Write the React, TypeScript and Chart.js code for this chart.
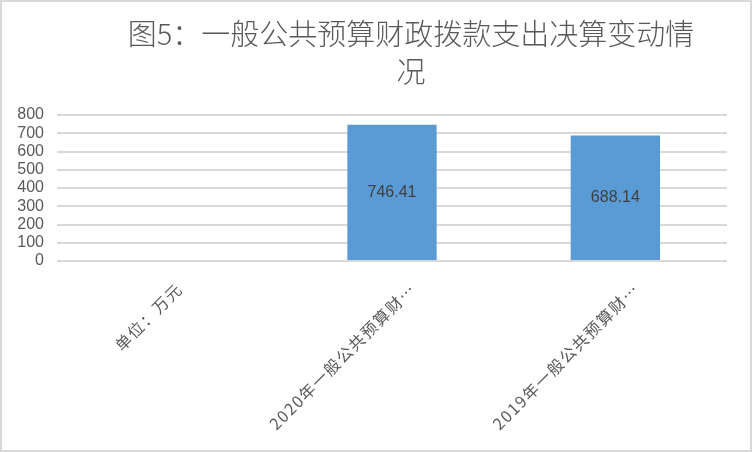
import { useEffect, useRef } from "react";
import { Chart, registerables } from "chart.js";

Chart.register(...registerables);

// chart data
const titleLines = ["图5：一般公共预算财政拨款支出决算变动情", "况"];
const categories = ["单位：万元", "2020年一般公共预算财…", "2019年一般公共预算财…"];
const values: (number | null)[] = [null, 746.41, 688.14];
const yMin = 0;
const yMax = 800;
const yStep = 100;

const FONT = "'Liberation Sans', 'Noto Sans CJK SC', sans-serif";
const CJK_FONT = "'Noto Sans CJK SC', 'Liberation Sans', sans-serif";
const GRAY = "#595959";

// title drawn by hand so it can sit off-centre like the original
const titlePlugin = {
  id: "sideTitle",
  afterDraw(chart: any) {
    const { ctx, width } = chart;
    ctx.save();
    ctx.font = `300 29px ${CJK_FONT}`;
    ctx.fillStyle = GRAY;
    ctx.textAlign = "center";
    ctx.textBaseline = "middle";
    titleLines.forEach((line, i) => {
      ctx.fillText(line, width / 2 + 35, 32 + i * 37.5);
    });
    ctx.restore();
  },
};

// value labels in the middle of each bar
const valueLabelPlugin = {
  id: "valueLabels",
  afterDatasetsDraw(chart: any) {
    const { ctx } = chart;
    const meta = chart.getDatasetMeta(0);
    ctx.save();
    ctx.font = `16px ${FONT}`;
    ctx.fillStyle = "#404040";
    ctx.textAlign = "center";
    ctx.textBaseline = "middle";
    meta.data.forEach((bar: any, i: number) => {
      const v = values[i];
      if (v == null) return;
      const { x, y, base } = bar.getProps(["x", "y", "base"], true);
      ctx.fillText(v.toFixed(2), x, (y + base) / 2);
    });
    ctx.restore();
  },
};

// rotated category labels, anchored a bit right of the tick like Excel does
const xLabelPlugin = {
  id: "xLabels",
  afterDraw(chart: any) {
    const { ctx, chartArea } = chart;
    const xScale = chart.scales.x;
    ctx.save();
    ctx.font = `16px ${CJK_FONT}`;
    (ctx as any).letterSpacing = "1.5px";
    ctx.fillStyle = GRAY;
    ctx.textAlign = "right";
    ctx.textBaseline = "middle";
    categories.forEach((label, i) => {
      const x = xScale.getPixelForValue(i);
      const w = ctx.measureText(label).width;
      ctx.save();
      ctx.translate(x + 3 + w * 0.09, chartArea.bottom + 25);
      ctx.rotate(-Math.PI / 4);
      ctx.fillText(label, 0, 0);
      ctx.restore();
    });
    ctx.restore();
  },
};

export default function App() {
  const canvasRef = useRef<HTMLCanvasElement>(null);
  const chartRef = useRef<Chart | null>(null);

  useEffect(() => {
    document.body.style.margin = "0";
    if (!canvasRef.current) return;
    const ctx = canvasRef.current.getContext("2d");
    if (!ctx) return;

    chartRef.current = new Chart(ctx, {
      type: "bar",
      data: {
        labels: categories,
        datasets: [
          {
            data: values,
            backgroundColor: "#5b9bd5",
            borderWidth: 0,
            barPercentage: 1,
            categoryPercentage: 0.4,
          },
        ],
      },
      options: {
        responsive: false,
        animation: false,
        layout: { padding: { top: 113, right: 23, bottom: 189, left: 0 } },
        plugins: {
          legend: { display: false },
          title: { display: false },
          tooltip: { enabled: false },
        },
        scales: {
          x: {
            display: false,
            grid: { display: false },
          },
          y: {
            min: yMin,
            max: yMax,
            border: { display: false },
            grid: { color: "#d9d9d9", lineWidth: 2, drawTicks: false },
            ticks: {
              stepSize: yStep,
              autoSkip: false,
              color: GRAY,
              padding: 13,
              font: { family: FONT, size: 16, lineHeight: 1 },
            },
            afterFit(scale: any) {
              scale.width = 55;
            },
          },
        },
      },
      plugins: [titlePlugin, valueLabelPlugin, xLabelPlugin],
    } as any);

    return () => {
      if (chartRef.current) {
        chartRef.current.destroy();
        chartRef.current = null;
      }
    };
  }, []);

  return (
    <div
      style={{
        position: "relative",
        width: 752,
        height: 452,
        boxSizing: "border-box",
        border: "2px solid #d9d9d9",
        background: "#fff",
      }}
    >
      <canvas ref={canvasRef} width={748} height={448} style={{ display: "block" }} />
    </div>
  );
}
